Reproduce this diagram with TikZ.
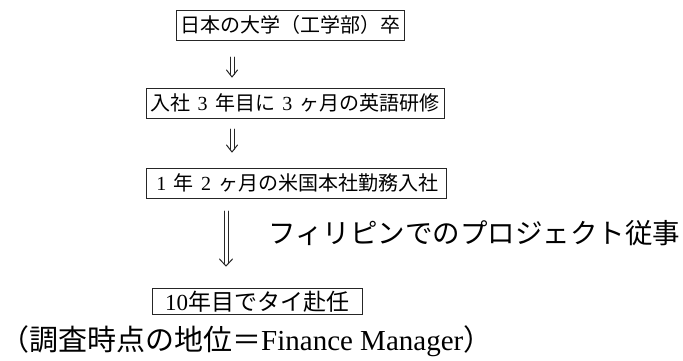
\documentclass[tikz,border=0pt]{standalone}
\usepackage{fontspec}
\setmainfont{Liberation Serif}
\newfontfamily\jp{Noto Sans CJK JP}
\newcommand\dg[1]{{\rmfamily #1}}
\newcommand\sdg[1]{\hspace{3pt}{\rmfamily #1}\hspace{3pt}}
\tikzset{
  boxnode/.style={draw=black!85, line width=0.8pt, inner sep=0pt, minimum height=30pt,
    font=\fontsize{20}{24}\selectfont\jp},
  arrline/.style={draw=black!85, line width=1pt, line cap=round, line join=round},
  plaintext/.style={inner sep=0pt, anchor=west},
}
\begin{document}
\begin{tikzpicture}[x=1pt,y=-1pt]
\useasboundingbox (0,0) rectangle (683,360);
\node[boxnode, minimum width=228pt] (b1) at (290,25) {日本の大学（工学部）卒};
\node[boxnode, minimum width=298pt] (b2) at (295,103) {入社 \sdg{3} 年目に \sdg{3} ヶ月の英語研修};
\node[boxnode, minimum width=300pt] (b3) at (296,183) {\sdg{1} 年 \sdg{2} ヶ月の米国本社勤務入社};
\node[boxnode, minimum width=210pt, minimum height=26pt, font=\fontsize{23}{26}\selectfont\jp] (b4) at (257,301.5) {\dg{10}年目でタイ赴任};
\coordinate (a1s) at (232,57);
\coordinate (a1e) at (232,77);
\coordinate (a2s) at (232,129);
\coordinate (a2e) at (232,152);
\coordinate (a3s) at (226,211);
\coordinate (a3e) at (226,266);
% double arrows (⇓)
\foreach \s/\e/\w in {a1s/a1e/5.5, a2s/a2e/5.5, a3s/a3e/6.5} {
  \draw[arrline] ([xshift=-2pt]\s) -- ([xshift=-2pt,yshift=2.6pt]\e);
  \draw[arrline] ([xshift=2pt]\s) -- ([xshift=2pt,yshift=2.6pt]\e);
  \draw[arrline] ([xshift=-\w pt,yshift=7pt]\e) -- (\e) -- ([xshift=\w pt,yshift=7pt]\e);
}
\node[plaintext, font=\fontsize{27.5}{30}\selectfont\jp] (t1) at (268,233) {フィリピンでのプロジェクト従事};
\node[plaintext, font=\fontsize{29}{31}\selectfont\jp] (t2) at (0,341) {（調査時点の地位＝\dg{Finance Manager}）};
\end{tikzpicture}
\end{document}
